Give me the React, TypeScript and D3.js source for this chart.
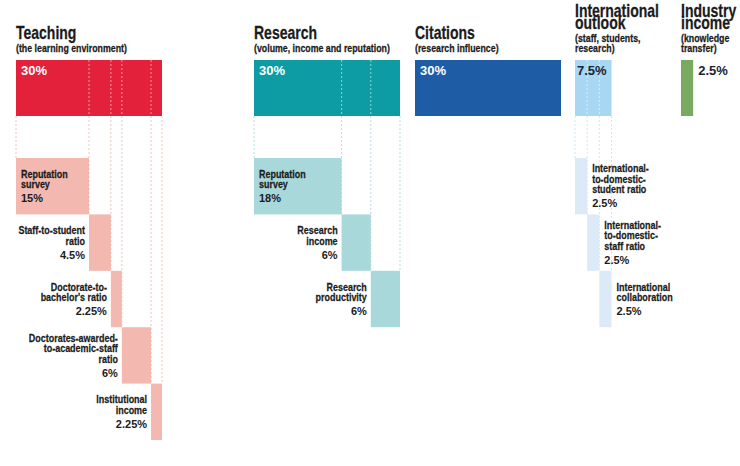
import React from "react";
import * as d3 from "d3";

// ---- data ----
const pillarNames = ["Teaching", "Research", "Citations", "International\noutlook", "Industry\nincome"];
const pillarSubtitles = [
  "(the learning environment)",
  "(volume, income and reputation)",
  "(research influence)",
  "(staff, students,\nresearch)",
  "(knowledge\ntransfer)",
];
const pillarWeights = [30, 30, 30, 7.5, 2.5];

const teachingMetrics = [
  "Reputation\nsurvey",
  "Staff-to-student\nratio",
  "Doctorate-to-\nbachelor's ratio",
  "Doctorates-awarded-\nto-academic-staff\nratio",
  "Institutional\nincome",
];
const teachingWeights = [15, 4.5, 2.25, 6, 2.25];

const researchMetrics = ["Reputation\nsurvey", "Research\nincome", "Research\nproductivity"];
const researchWeights = [18, 6, 6];

const internationalMetrics = [
  "International-\nto-domestic-\nstudent ratio",
  "International-\nto-domestic-\nstaff ratio",
  "International\ncollaboration",
];
const internationalWeights = [2.5, 2.5, 2.5];

const metricNames = [teachingMetrics, researchMetrics, [], internationalMetrics, []];
const metricWeights = [teachingWeights, researchWeights, [], internationalWeights, []];

// ---- layout / style ----
const W = 740;
const H = 466;
const pillarX = [16, 254, 415, 575, 681];
const darkColors = ["#E3213B", "#0D9CA4", "#1E5DA5", "#A7D7F2", "#78AA5F"];
const lightColors = ["#F3B8B0", "#A9D8DA", "#1E5DA5", "#DCEAF8", "#78AA5F"];
const dashColors = ["#F1C2BC", "#B4DEE0", "#1E5DA5", "#CFE4F6", "#78AA5F"];
const labelSide = ["left", "left", "none", "right", "none"];
const topPctColor = ["#ffffff", "#ffffff", "#ffffff", "#1c2333", "#1c2333"];

const font = "'Liberation Sans', Arial, sans-serif";
const ink = "#1b1b1b";
const SQUEEZE = 0.8;

const fmt = (v: number) => `${v}%`;

function NText(props: {
  x: number;
  y: number;
  size: number;
  anchor?: "start" | "end";
  fill?: string;
  children: React.ReactNode;
}) {
  const { x, y, size, anchor = "start", fill = ink, children } = props;
  return (
    <text
      transform={`translate(${x},${y}) scale(${SQUEEZE},1)`}
      textAnchor={anchor}
      fontFamily={font}
      fontWeight={700}
      fontSize={size}
      fill={fill}
      stroke={fill}
      strokeWidth={0.25}
    >
      {children}
    </text>
  );
}

export default function App() {
  const x = d3.scaleLinear().domain([0, 30]).range([0, 146]);
  const rowY = d3.scaleLinear().domain([0, 5]).range([158, 440]);
  const rowH = rowY(1) - rowY(0);
  const topY = 60;
  const topH = 56;

  return (
    <svg
      width={W}
      height={H}
      viewBox={`0 0 ${W} ${H}`}
      style={{ position: "absolute", left: 0, top: 0, background: "#fff" }}
    >
      <rect x={0} y={0} width={W} height={H} fill="#fff" />
      {pillarNames.map((name, p) => {
        const px = pillarX[p];
        const titleLines = name.split("\n");
        const subLines = pillarSubtitles[p].split("\n");
        const subBase0 = 52 - (subLines.length - 1) * 10;
        const titleBaseLast = subBase0 - 13;
        const titleBase0 = titleBaseLast - (titleLines.length - 1) * 12.5;
        const weights = metricWeights[p];
        const names = metricNames[p];
        const ends = Array.from(d3.cumsum(weights));
        const starts = weights.map((_, i) => (i === 0 ? 0 : ends[i - 1]));
        const n = weights.length;
        const bounds = n ? [...starts, ends[n - 1]] : [];
        const barW = x(pillarWeights[p]);

        let pctX = px + 5;
        if (p === 3) pctX = px + 2;
        if (p === 4) pctX = px + barW + 5;

        return (
          <g key={p}>
            {titleLines.map((t, i) => (
              <NText key={"t" + i} x={px} y={titleBase0 + i * 12.5} size={17.5}>
                {t}
              </NText>
            ))}
            {subLines.map((t, i) => (
              <NText key={"s" + i} x={px} y={subBase0 + i * 10} size={11}>
                {t}
              </NText>
            ))}
            {/* top bar */}
            <rect x={px} y={topY} width={barW} height={topH} fill={darkColors[p]} />
            {/* dashed guides */}
            {bounds.map((b, j) => {
              const bx = px + x(b);
              const yEnd = rowY(Math.min(j, n - 1));
              return (
                <g key={"d" + j}>
                  {j > 0 && j < n && (
                    <line
                      x1={bx}
                      x2={bx}
                      y1={topY}
                      y2={topY + topH}
                      stroke="#ffffff"
                      strokeOpacity={0.55}
                      strokeWidth={1}
                      strokeDasharray="2,2"
                    />
                  )}
                  <line
                    x1={bx}
                    x2={bx}
                    y1={topY + topH}
                    y2={yEnd}
                    stroke={dashColors[p]}
                    strokeWidth={1}
                    strokeDasharray="2,2"
                  />
                </g>
              );
            })}
            <text
              x={pctX}
              y={75}
              fontFamily={font}
              fontWeight={700}
              fontSize={13}
              fill={topPctColor[p]}
            >
              {fmt(pillarWeights[p])}
            </text>
            {/* sub bars */}
            {weights.map((w, i) => {
              const bx = px + x(starts[i]);
              const bw = x(w);
              const by = rowY(i);
              const lines = names[i].split("\n");
              const block = 7.5 + (lines.length - 1) * 10.5 + 14;
              const cy = by + rowH / 2;
              const base0 = cy - block / 2 + 7.5;
              let lx: number;
              let anchor: "start" | "end";
              if (labelSide[p] === "right") {
                lx = bx + bw + 5;
                anchor = "start";
              } else if (i === 0) {
                lx = bx + 5;
                anchor = "start";
              } else {
                lx = bx - 4;
                anchor = "end";
              }
              return (
                <g key={"m" + i}>
                  <rect x={bx} y={by} width={bw} height={rowH} fill={lightColors[p]} />
                  {lines.map((t, k) => (
                    <NText key={k} x={lx} y={base0 + k * 10.5} size={11.2} anchor={anchor}>
                      {t}
                    </NText>
                  ))}
                  <text
                    x={lx}
                    y={base0 + (lines.length - 1) * 10.5 + 14}
                    textAnchor={anchor}
                    fontFamily={font}
                    fontWeight={700}
                    fontSize={11}
                    fill={ink}
                  >
                    {fmt(w)}
                  </text>
                </g>
              );
            })}
          </g>
        );
      })}
    </svg>
  );
}
